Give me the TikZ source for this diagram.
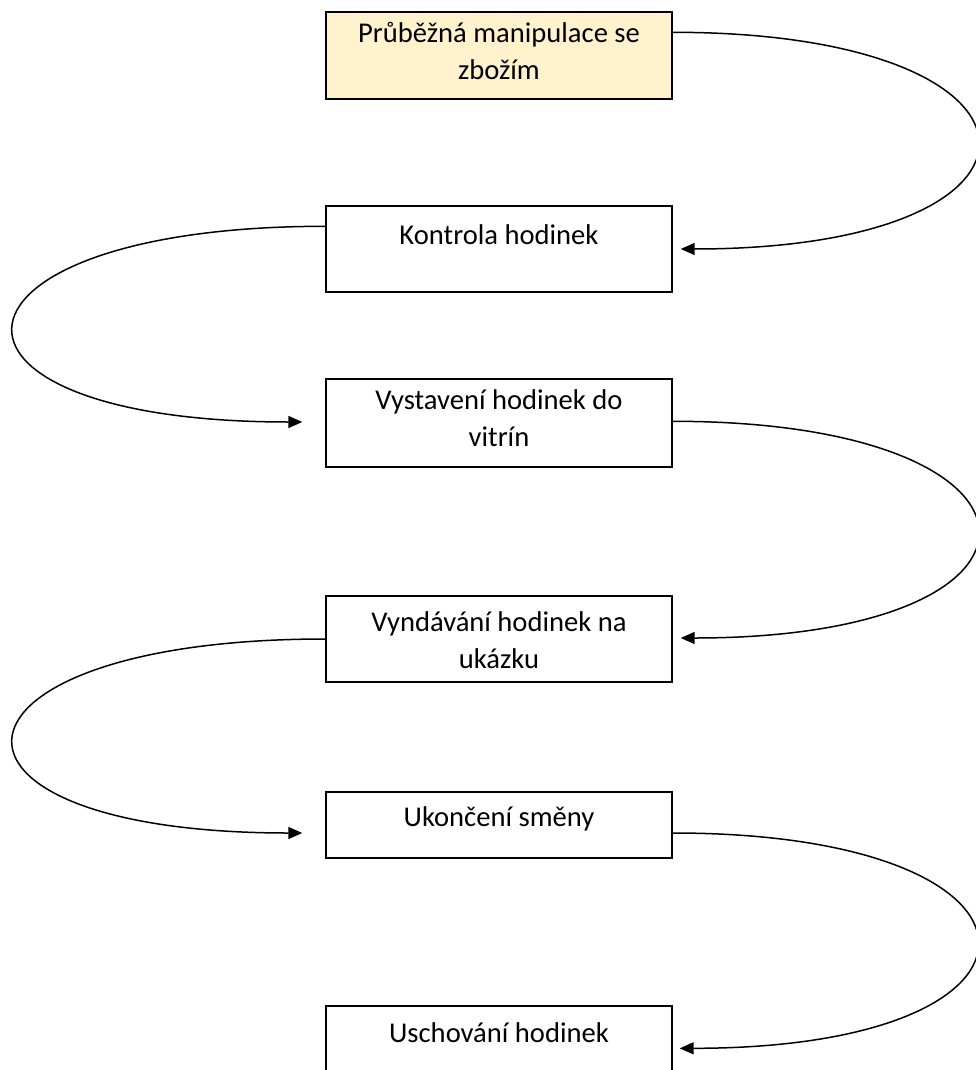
\documentclass[tikz,border=0pt]{standalone}
\usepackage{fontspec}
\setmainfont{Carlito}
\usetikzlibrary{arrows.meta,calc}
\definecolor{boxyellow}{HTML}{FFF2CC}
\tikzset{
  stepbox/.style={draw=black, line width=1.4pt, minimum width=346pt, minimum height=86pt, inner sep=0pt},
  lbl/.style={anchor=north, inner sep=0pt, align=center, font=\fontsize{28.6}{37}\selectfont},
  conn/.style={draw=black, line width=1.5pt, -{Triangle[length=14pt,width=12pt]}}
}
\begin{document}
\begin{tikzpicture}[x=1pt,y=-1pt]
\useasboundingbox (0,0) rectangle (976,1070);
\begin{scope}
\clip (0,0) rectangle (976,1070);
% boxes
\node[stepbox, fill=boxyellow, minimum height=87pt] (b1) at (499,55.5) {};
\node[stepbox] (b2) at (499,249) {};
\node[stepbox, minimum height=88pt] (b3) at (499,423) {};
\node[stepbox] (b4) at (499,639) {};
\node[stepbox, minimum height=66pt] (b5) at (499,825) {};
\node[stepbox] (b6) at (499,1049) {};
% labels
\node[lbl] (t1) at ($(b1.north)+(0,5)$) {\strut Průběžná manipulace se\\zbožím};
\node[lbl] (t2) at ($(b2.north)+(0,13)$) {\strut Kontrola hodinek};
\node[lbl] (t3) at ($(b3.north)+(0,5)$) {\strut Vystavení hodinek do\\vitrín};
\node[lbl] (t4) at ($(b4.north)+(0,10)$) {\strut Vyndávání hodinek na\\ukázku};
\node[lbl] (t5) at ($(b5.north)+(0,9)$) {\strut Ukončení směny};
\node[lbl] (t6) at ($(b6.north)+(0,11)$) {\strut Uschování hodinek};
\end{scope}
% connector end points
\coordinate (s1) at ($(b1.north east)+(0,21)$);
\coordinate (e1) at ($(b2.east)+(8,0)$);
\coordinate (s2) at ($(b2.north west)+(0,21)$);
\coordinate (e2) at ($(b3.west)+(-23,-1)$);
\coordinate (s3) at ($(b3.north east)+(0,43)$);
\coordinate (e3) at ($(b4.east)+(8,-1)$);
\coordinate (s4) at ($(b4.west)+(0,0)$);
\coordinate (e4) at ($(b5.west)+(-23,8)$);
\coordinate (s5) at ($(b5.east)+(0,8)$);
\coordinate (e5) at ($(b6.north east)+(7,43)$);
% connectors
\draw[conn] (s1) .. controls ($(s1)+(401,0)$) and ($(e1)+(401,0)$) .. (e1);
\draw[conn] (s2) .. controls ($(s2)+(-400,0)$) and ($(e2)+(-400,0)$) .. (e2);
\draw[conn] (s3) .. controls ($(s3)+(401,0)$) and ($(e3)+(401,0)$) .. (e3);
\draw[conn] (s4) .. controls ($(s4)+(-400,0)$) and ($(e4)+(-400,0)$) .. (e4);
\draw[conn] (s5) .. controls ($(s5)+(401,0)$) and ($(e5)+(401,0)$) .. (e5);
\end{tikzpicture}
\end{document}
